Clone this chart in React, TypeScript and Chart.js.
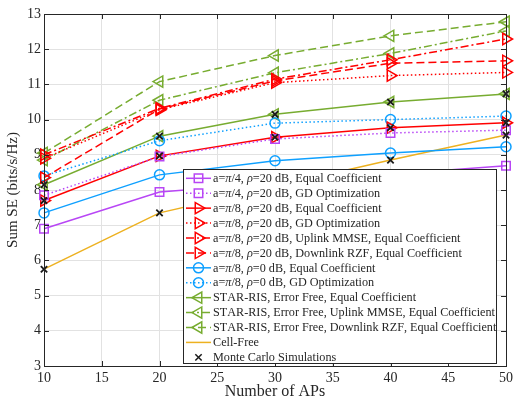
import React, { useEffect, useRef } from "react";
import { Chart, registerables } from "chart.js";
import { drawPoint } from "chart.js/helpers";

Chart.register(...registerables);

// ---------- data ----------
const apCounts = [10, 20, 30, 40, 50];
const xTickValues = [10, 15, 20, 25, 30, 35, 40, 45, 50];
const yTickValues = [3, 4, 5, 6, 7, 8, 9, 10, 11, 12, 13];

const purpleEqual = [6.9, 7.94, 8.2, 8.45, 8.69];
const purpleGD = [7.85, 8.95, 9.45, 9.62, 9.7];
const redEqual = [7.7, 8.97, 9.5, 9.77, 9.91];
const redGD = [8.9, 10.28, 11.05, 11.25, 11.34];
const redUplink = [9.0, 10.32, 11.15, 11.7, 12.29];
const redDownlink = [8.35, 10.3, 11.1, 11.6, 11.67];
const blueEqual = [7.35, 8.43, 8.83, 9.05, 9.23];
const blueGD = [8.4, 9.4, 9.9, 10.0, 10.1];
const greenEqual = [8.15, 9.53, 10.15, 10.5, 10.73];
const greenUplink = [8.85, 10.55, 11.33, 11.88, 12.52];
const greenDownlink = [9.05, 11.08, 11.82, 12.38, 12.78];
const cellFree = [5.75, 7.35, 8.1, 8.85, 9.56];
const monteCarloX = [10, 10, 10, 20, 20, 20, 30, 30, 30, 40, 40, 40, 50, 50, 50];
const monteCarloY = [8.15, 7.7, 5.75, 9.53, 8.97, 7.35, 10.15, 9.5, 8.1, 10.5, 9.77, 8.85, 10.73, 9.91, 9.56];

const labels = [
  "a=π/4, ρ=20 dB, Equal Coefficient",
  "a=π/4, ρ=20 dB, GD Optimization",
  "a=π/8, ρ=20 dB, Equal Coefficient",
  "a=π/8, ρ=20 dB, GD Optimization",
  "a=π/8, ρ=20 dB, Uplink MMSE, Equal Coefficient",
  "a=π/8, ρ=20 dB, Downlink RZF, Equal Coefficient",
  "a=π/8, ρ=0 dB, Equal Coefficient",
  "a=π/8, ρ=0 dB, GD Optimization",
  "STAR-RIS, Error Free, Equal Coefficient",
  "STAR-RIS, Error Free, Uplink MMSE, Equal Coefficient",
  "STAR-RIS, Error Free, Downlink RZF, Equal Coefficient",
  "Cell-Free",
  "Monte Carlo Simulations",
];

// ---------- styles ----------
const PURPLE = "#B846F5";
const RED = "#FF0000";
const BLUE = "#0EA0FF";
const GREEN = "#77AC30";
const ORANGE = "#EDB120";
const BLACK = "#1a1a1a";
const TEXT = "#262626";

const SOLID: number[] = [];
const DOT = [1.5, 2.5];
const DASH = [8, 4];
const DASHDOT = [8, 3, 2, 3];

type Spec = {
  values: number[];
  color: string;
  dash: number[];
  marker: string | false;
  rot: number;
  r: number;
};

const specs: Spec[] = [
  { values: purpleEqual, color: PURPLE, dash: SOLID, marker: "rect", rot: 0, r: 6 },
  { values: purpleGD, color: PURPLE, dash: DOT, marker: "rect", rot: 0, r: 6 },
  { values: redEqual, color: RED, dash: SOLID, marker: "triangle", rot: 90, r: 6.5 },
  { values: redGD, color: RED, dash: DOT, marker: "triangle", rot: 90, r: 6.5 },
  { values: redUplink, color: RED, dash: DASHDOT, marker: "triangle", rot: 90, r: 6.5 },
  { values: redDownlink, color: RED, dash: DASH, marker: "triangle", rot: 90, r: 6.5 },
  { values: blueEqual, color: BLUE, dash: SOLID, marker: "circle", rot: 0, r: 5 },
  { values: blueGD, color: BLUE, dash: DOT, marker: "circle", rot: 0, r: 5 },
  { values: greenEqual, color: GREEN, dash: SOLID, marker: "triangle", rot: -90, r: 6.5 },
  { values: greenUplink, color: GREEN, dash: DASHDOT, marker: "triangle", rot: -90, r: 6.5 },
  { values: greenDownlink, color: GREEN, dash: DASH, marker: "triangle", rot: -90, r: 6.5 },
  { values: cellFree, color: ORANGE, dash: SOLID, marker: false, rot: 0, r: 0 },
];

const SERIF = '"Liberation Serif", "Times New Roman", serif';

function drawRichText(ctx: CanvasRenderingContext2D, text: string, x: number, y: number, size: number) {
  let cx = x;
  for (const ch of Array.from(text)) {
    const italic = ch === "π" || ch === "ρ";
    ctx.font = `${italic ? "italic " : ""}${size}px ${SERIF}`;
    ctx.fillText(ch, cx, y);
    cx += ctx.measureText(ch).width;
  }
}

const boxPlugin = {
  id: "matlabBox",
  afterDatasetsDraw(chart: any) {
    const { ctx, chartArea } = chart;
    const { left, right, top, bottom } = chartArea;
    const xs = chart.scales.x;
    const ys = chart.scales.y;
    ctx.save();
    ctx.strokeStyle = TEXT;
    ctx.lineWidth = 1;
    ctx.setLineDash([]);
    ctx.strokeRect(Math.round(left) + 0.5, Math.round(top) + 0.5, Math.round(right - left), Math.round(bottom - top));
    ctx.beginPath();
    for (const v of xTickValues) {
      const px = Math.round(xs.getPixelForValue(v)) + 0.5;
      ctx.moveTo(px, bottom);
      ctx.lineTo(px, bottom - 5);
      ctx.moveTo(px, top);
      ctx.lineTo(px, top + 5);
    }
    for (const v of yTickValues) {
      const py = Math.round(ys.getPixelForValue(v)) + 0.5;
      ctx.moveTo(left, py);
      ctx.lineTo(left + 5, py);
      ctx.moveTo(right, py);
      ctx.lineTo(right - 5, py);
    }
    ctx.stroke();
    ctx.restore();
  },
  afterDraw(chart: any) {
    const ctx: CanvasRenderingContext2D = chart.ctx;
    const x0 = 183, y0 = 169, w = 313, h = 194;
    ctx.save();
    ctx.fillStyle = "#ffffff";
    ctx.fillRect(x0, y0, w, h);
    ctx.strokeStyle = TEXT;
    ctx.lineWidth = 1;
    ctx.strokeRect(x0 + 0.5, y0 + 0.5, w, h);
    labels.forEach((label, i) => {
      const y = 178.3 + i * 14.92;
      const spec = specs[i];
      if (spec) {
        ctx.setLineDash(spec.dash);
        ctx.strokeStyle = spec.color;
        ctx.lineWidth = 1.5;
        ctx.beginPath();
        ctx.moveTo(186, y);
        ctx.lineTo(211, y);
        ctx.stroke();
        ctx.setLineDash([]);
        if (spec.marker) {
          ctx.fillStyle = "rgba(0,0,0,0)";
          drawPoint(ctx, { pointStyle: spec.marker as any, rotation: spec.rot, radius: spec.r, borderWidth: 1.5 }, 198.5, y);
        }
      } else {
        ctx.setLineDash([]);
        ctx.strokeStyle = BLACK;
        ctx.lineWidth = 1.5;
        ctx.fillStyle = "rgba(0,0,0,0)";
        drawPoint(ctx, { pointStyle: "crossRot", rotation: 0, radius: 4.5, borderWidth: 1.5 }, 198.5, y);
      }
      ctx.fillStyle = TEXT;
      ctx.textBaseline = "middle";
      ctx.textAlign = "left";
      drawRichText(ctx, label, 213, y + 0.5, 12.2);
    });
    ctx.restore();
  },
};

export default function App() {
  const canvasRef = useRef<HTMLCanvasElement | null>(null);

  useEffect(() => {
    const canvas = canvasRef.current;
    if (!canvas) return;

    const lineSets = specs.map((s, i) => ({
      label: labels[i],
      data: apCounts.map((x, k) => ({ x, y: s.values[k] })),
      borderColor: s.color,
      borderWidth: 1.5,
      borderDash: s.dash,
      backgroundColor: "rgba(0,0,0,0)",
      pointStyle: s.marker || "circle",
      pointRadius: s.marker ? s.r : 0,
      pointRotation: s.rot,
      pointBorderColor: s.color,
      pointBackgroundColor: "rgba(0,0,0,0)",
      pointBorderWidth: 1.5,
      fill: false,
      tension: 0,
      clip: false as any,
    }));

    const mcSet = {
      label: labels[12],
      data: monteCarloX.map((x, k) => ({ x, y: monteCarloY[k] })),
      showLine: false,
      borderColor: BLACK,
      backgroundColor: "rgba(0,0,0,0)",
      pointStyle: "crossRot",
      pointRadius: 4.5,
      pointBorderColor: BLACK,
      pointBorderWidth: 1.8,
      clip: false as any,
    };

    const chart = new Chart(canvas, {
      type: "line",
      data: { datasets: [mcSet as any, ...lineSets] },
      options: {
        animation: false,
        responsive: false,
        devicePixelRatio: 1,
        layout: { padding: { left: 0, right: 7, top: 14, bottom: 0 } },
        plugins: { legend: { display: false }, tooltip: { enabled: false } },
        scales: {
          x: {
            type: "linear",
            min: 10,
            max: 50,
            ticks: {
              stepSize: 5,
              color: TEXT,
              font: { family: SERIF, size: 14 },
              padding: 4,
              maxRotation: 0,
            },
            grid: { color: "#e2e2e2", lineWidth: 1, drawTicks: false },
            border: { display: false },
            title: {
              display: true,
              text: "Number of APs",
              color: TEXT,
              font: { family: SERIF, size: 16 },
              padding: { top: 0, bottom: 2 },
            },
            afterFit: (scale: any) => {
              scale.height = 37;
              scale.paddingLeft = 0;
              scale.paddingRight = 0;
            },
          },
          y: {
            type: "linear",
            min: 3,
            max: 13,
            ticks: {
              stepSize: 1,
              color: TEXT,
              font: { family: SERIF, size: 14 },
              padding: 3,
            },
            grid: { color: "#e2e2e2", lineWidth: 1, drawTicks: false },
            border: { display: false },
            title: {
              display: true,
              text: "Sum SE (bits/s/Hz)",
              color: TEXT,
              font: { family: SERIF, size: 15 },
              padding: { top: 4, bottom: 0 },
            },
            afterFit: (scale: any) => {
              scale.width = 44;
              scale.paddingTop = 0;
              scale.paddingBottom = 0;
            },
          },
        },
      },
      plugins: [boxPlugin],
    } as any);

    return () => chart.destroy();
  }, []);

  return (
    <div style={{ position: "fixed", left: 0, top: 0, width: 514, height: 403, background: "#fff" }}>
      <canvas ref={canvasRef} width={514} height={403} style={{ width: 514, height: 403, display: "block" }} />
    </div>
  );
}
